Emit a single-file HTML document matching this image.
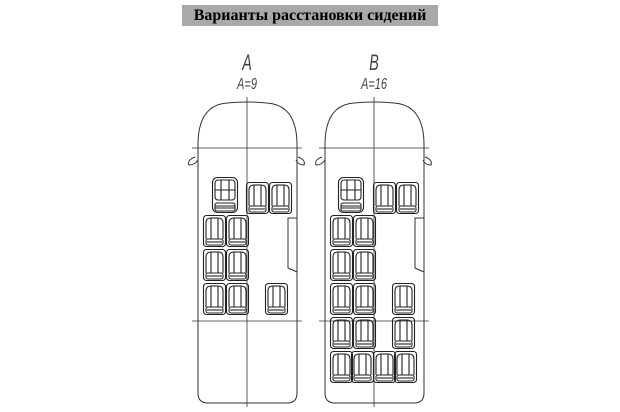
<!DOCTYPE html>
<html><head><meta charset="utf-8"><style>
html,body{margin:0;padding:0;background:#fff;}
body{width:620px;height:412px;overflow:hidden;position:relative;}
.t{position:absolute;left:182px;top:5px;width:256px;height:21px;background:#a9a9a9;font:bold 16px "Liberation Serif",serif;color:#000;text-align:center;line-height:21px;white-space:nowrap;}
svg{position:absolute;left:0;top:0;}
</style></head><body>
<div class="t">Варианты расстановки сидений</div>
<svg width="620" height="412" viewBox="0 0 620 412">
<defs>
<g id="s" fill="none" stroke="#222" stroke-width="1.1">
<rect x="0.5" y="0.5" width="22" height="31" rx="3"/>
<path d="M3 24 V8 Q3 3 8 3 V24 M20 24 V8 Q20 3 15 3 V24"/>
<path d="M8 3 H15"/>
<rect x="3" y="24" width="17" height="6" rx="2"/>
<path d="M4 27 H19"/>
</g>
<g id="d" fill="none" stroke="#222" stroke-width="1.1">
<rect x="0.5" y="0.5" width="25" height="35" rx="5"/>
<rect x="3" y="3" width="20" height="20" rx="3"/>
<path d="M9 3 V23 M17 3 V23 M3 13 H23"/>
<rect x="3" y="26" width="20" height="8" rx="2"/>
<path d="M3 29 H23 M3 31 H23"/>
</g>
<g id="van" fill="none" stroke="#333" stroke-width="1">
<path d="M-49 393 V145 Q-49 105 -20 103 Q0 101 20 103 Q50 105 50 145 V393 Q50 403 40 403 H-39 Q-49 403 -49 393 Z"/>
<path d="M-55 148 H55 M-55 321 H55 M0 97 V407" stroke-width="0.8"/>
<path d="M-52 157 Q-60 160 -58 165 Q-52 165 -49 160" />
<path d="M51 157 Q59 160 57 165 Q51 165 49 160" />
<path d="M50 218 H41 V268 L50 272"/>
</g>
</defs>
<g font-family="Liberation Sans Narrow,Liberation Sans,sans-serif" font-style="italic" font-weight="300" fill="#444" text-anchor="middle">
<text transform="translate(247,70) scale(0.8,1.25)" font-size="18">A</text>
<text transform="translate(247,89) scale(0.85,1.2)" font-size="13">A=9</text>
<text transform="translate(374,70) scale(0.8,1.25)" font-size="18">B</text>
<text transform="translate(374,89) scale(0.85,1.2)" font-size="13">A=16</text>
</g>
<g transform="translate(247,0)">
<use href="#van"/>
<use href="#d" x="-35" y="177"/>
<use href="#s" x="-1" y="182"/><use href="#s" x="22" y="182"/>
<use href="#s" x="-44" y="215"/><use href="#s" x="-21" y="215"/>
<use href="#s" x="-44" y="249"/><use href="#s" x="-21" y="249"/>
<use href="#s" x="-44" y="283"/><use href="#s" x="-21" y="283"/>
<use href="#s" x="18" y="283"/>
</g>
<g transform="translate(374,0)">
<use href="#van"/>
<use href="#d" x="-36" y="177"/>
<use href="#s" x="-1" y="182"/><use href="#s" x="22" y="182"/>
<use href="#s" x="-44" y="215"/><use href="#s" x="-21" y="215"/>
<use href="#s" x="-44" y="249"/><use href="#s" x="-21" y="249"/>
<use href="#s" x="-44" y="283"/><use href="#s" x="-21" y="283"/>
<use href="#s" x="18" y="283"/>
<use href="#s" x="-44" y="317"/><use href="#s" x="-21" y="317"/>
<use href="#s" x="18" y="317"/>
<use href="#s" x="-44" y="351"/><use href="#s" x="-23" y="351"/><use href="#s" x="-1" y="351"/><use href="#s" x="20" y="351"/>
</g>
</svg>
</body></html>
